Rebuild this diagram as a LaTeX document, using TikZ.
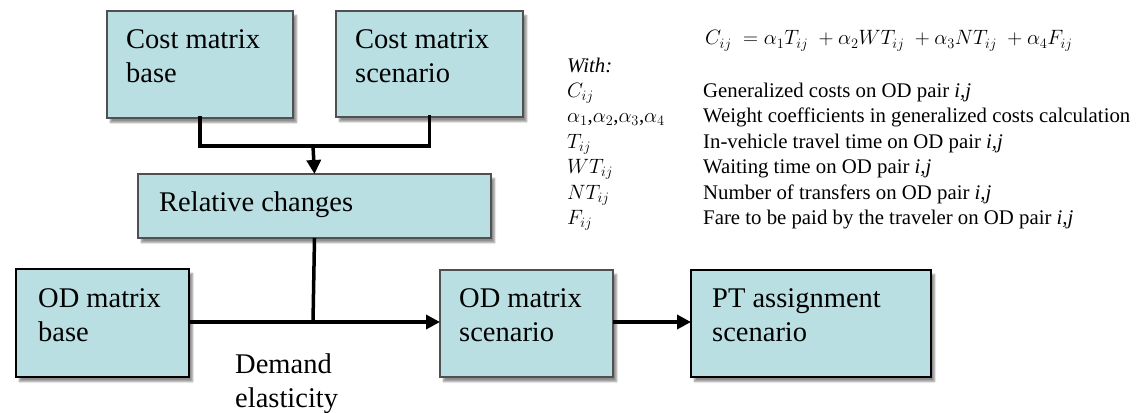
\documentclass[tikz,border=0pt]{standalone}
\usepackage{fontspec}
\setmainfont{Liberation Serif}
\usetikzlibrary{arrows.meta,shadows.blur}
\definecolor{boxfill}{RGB}{185,223,227}
\definecolor{boxline}{RGB}{80,80,80}
\tikzset{
  box/.style={draw=boxline, line width=1.1pt, fill=boxfill, inner sep=0pt, outer sep=0pt, anchor=north west,
    blur shadow={shadow xshift=3.5pt, shadow yshift=-4.5pt, shadow blur steps=7, shadow opacity=45}},
  boxtext/.style={anchor=base west, inner sep=0pt, align=left, font=\fontsize{28.5}{34}\selectfont},
  desc/.style={anchor=base west, inner sep=0pt, font=\fontsize{20.8}{24}\selectfont},
  conn/.style={line width=3.5pt, draw=black},
  arr/.style={conn, -{Triangle[length=14pt,width=14pt]}},
}
\begin{document}
\begin{tikzpicture}[x=1pt,y=-1pt]
\useasboundingbox (0,0) rectangle (1137,412);
% boxes
\node[box, minimum width=186pt, minimum height=107pt] (cmb) at (107,11) {};
\node[box, minimum width=187pt, minimum height=106pt] (cms) at (336,11) {};
\node[box, minimum width=353pt, minimum height=64pt] (rc) at (138,174) {};
\node[box, minimum width=173pt, minimum height=108pt, draw=black, line width=1.6pt] (odb) at (16,269) {};
\node[box, minimum width=173pt, minimum height=107pt] (ods) at (440,270) {};
\node[box, minimum width=240pt, minimum height=107pt, draw=black] (pt) at (691,270) {};
% box texts (anchor = baseline of the last line)
\node[boxtext] (tcmb) at (126,82) {Cost matrix\\base};
\node[boxtext] (tcms) at (355,82) {Cost matrix\\scenario};
\node[boxtext] (trc) at (159,211) {Relative changes};
\node[boxtext] (todb) at (38,341) {OD matrix\\base};
\node[boxtext] (tods) at (459,341) {OD matrix\\scenario};
\node[boxtext] (tpt) at (712,341) {PT assignment\\scenario};
\node[boxtext] (de) at (235,407) {Demand\\elasticity};
% connectors
\coordinate (j1) at (313,146);
\coordinate (j2) at (313,322);
\draw[conn, line cap=rect] (cmb.south) |- (j1) -| (cms.south);
\draw[arr] (j1) -- (rc.north);
\draw[conn] (rc.south) -- (j2);
\draw[arr] (odb.east |- j2) -- (ods.west |- j2);
\draw[arr] (ods.east |- j2) -- (pt.west |- j2);
% formula and legend
\node[desc, font=\fontsize{20}{24}\selectfont] (eq) at (705,45) {$C_{ij}\;=\alpha_1T_{ij}\;+\alpha_2WT_{ij}\;+\alpha_3NT_{ij}\;+\alpha_4F_{ij}$};
\node[desc] (with) at (567,72) {\textit{With:}};
\node[desc] (s1) at (567,97) {$C_{ij}$};
\node[desc] (s2) at (567,122) {$\alpha_1$,$\alpha_2$,$\alpha_3$,$\alpha_4$};
\node[desc] (s3) at (567,148) {$T_{ij}$};
\node[desc] (s4) at (567,173) {$WT_{ij}$};
\node[desc] (s5) at (567,199) {$NT_{ij}$};
\node[desc] (s6) at (567,224) {$F_{ij}$};
\node[desc] (d1) at (703,97) {Generalized costs on OD pair \textit{i,j}};
\node[desc] (d2) at (703,122) {Weight coefficients in generalized costs calculation};
\node[desc] (d3) at (703,148) {In-vehicle travel time on OD pair \textit{i,j}};
\node[desc] (d4) at (703,173) {Waiting time on OD pair \textit{i,j}};
\node[desc] (d5) at (703,199) {Number of transfers on OD pair \textit{i,j}};
\node[desc] (d6) at (703,224) {Fare to be paid by the traveler on OD pair \textit{i,j}};
\end{tikzpicture}
\end{document}
